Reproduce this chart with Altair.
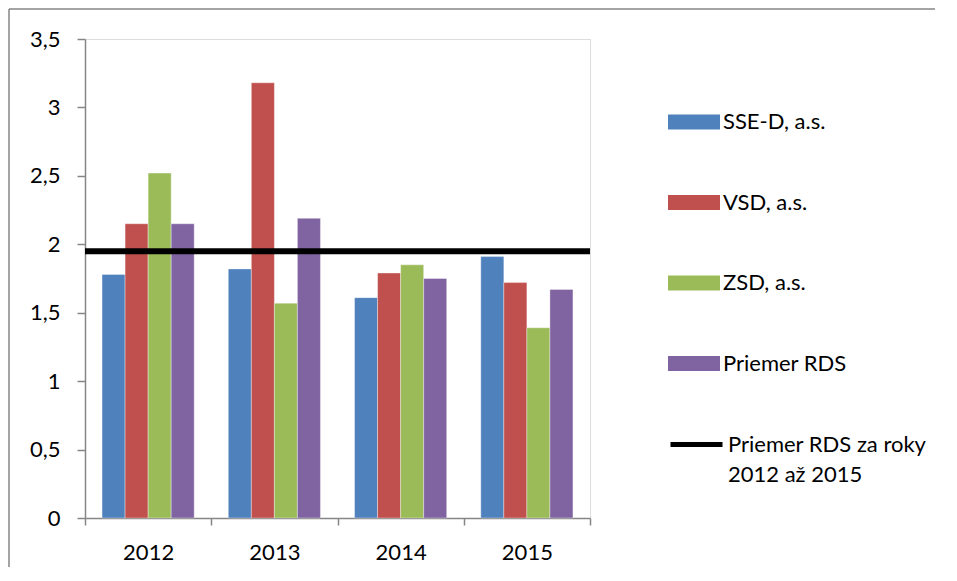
import altair as alt
import pandas as pd

years = ["2012", "2013", "2014", "2015"]
companies = ["SSE-D, a.s.", "VSD, a.s.", "ZSD, a.s.", "Priemer RDS"]
colors = ["#4F81BD", "#C0504D", "#9BBB59", "#8064A2"]
sse = [1.78, 1.82, 1.61, 1.91]
vsd = [2.15, 3.18, 1.79, 1.72]
zsd = [2.52, 1.57, 1.85, 1.39]
rds = [2.15, 2.19, 1.75, 1.67]
avg_name = "Priemer RDS za roky 2012 až 2015"
avg_value = [1.95]
y_ticks = [0, 0.5, 1, 1.5, 2, 2.5, 3, 3.5]

rows = []
for comp, vals in zip(companies, [sse, vsd, zsd, rds]):
    for yr, v in zip(years, vals):
        rows.append({"year": yr, "company": comp, "value": v})
df = pd.DataFrame(rows)
avg_df = pd.DataFrame({"name": [avg_name], "value": avg_value})

W, H = 505, 479
AXIS_GRAY = "#868686"
FONT = "Lato"

bars = alt.Chart(df).mark_bar(stroke="#ffffff", strokeWidth=0.6, strokeOpacity=0.6).encode(
    x=alt.X("year:N", sort=years, title=None,
            scale=alt.Scale(paddingInner=0, paddingOuter=0),
            axis=alt.Axis(labelAngle=0, tickBand="extent", tickSize=7, tickColor=AXIS_GRAY,
                          domainColor=AXIS_GRAY, tickWidth=1.5, domainWidth=1.5,
                          labelPadding=17, labelFontSize=22, labelColor="black",
                          labelFont=FONT)),
    xOffset=alt.XOffset("company:N", sort=companies,
                        scale=alt.Scale(paddingInner=0, paddingOuter=0.74)),
    y=alt.Y("value:Q", title=None,
            scale=alt.Scale(domain=[0, 3.5], nice=False),
            axis=alt.Axis(values=y_ticks, grid=False, tickSize=8, tickColor=AXIS_GRAY,
                          domainColor=AXIS_GRAY, tickWidth=1.5, domainWidth=1.5,
                          labelPadding=17, labelFontSize=22, labelColor="black",
                          labelFont=FONT,
                          labelExpr="replace(toString(datum.value), '.', ',')")),
    color=alt.Color("company:N", sort=companies,
                    scale=alt.Scale(domain=companies, range=colors),
                    legend=alt.Legend(title=None, orient="none", legendX=583, legendY=57,
                                      symbolType="M-1,-0.29H1V0.29H-1Z", symbolSize=2704,
                                      symbolStrokeWidth=0, rowPadding=43.5,
                                      labelFontSize=22, labelFont=FONT, labelColor="black",
                                      labelOffset=3, labelLimit=400, padding=0)),
)

avg_line = alt.Chart(avg_df).mark_rule(strokeWidth=6).encode(
    y=alt.Y("value:Q"),
    stroke=alt.Stroke("name:N",
                      scale=alt.Scale(domain=[avg_name], range=["black"]),
                      legend=alt.Legend(title=None, orient="none", legendX=583, legendY=377,
                                        symbolType="M-1,0L1,0", symbolSize=2704,
                                        symbolStrokeWidth=5, labelFontSize=22,
                                        labelFont=FONT, labelColor="black",
                                        labelOffset=3, labelLimit=400, padding=0,
                                        labelExpr="[slice(datum.label, 0, 19), slice(datum.label, 20)]")),
)

frame_top = alt.Chart(avg_df).mark_rule(color=AXIS_GRAY, strokeWidth=1.5).encode(
    x=alt.value(-76), x2=alt.value(850), y=alt.value(-30)
)
frame_left = alt.Chart(avg_df).mark_rule(color=AXIS_GRAY, strokeWidth=1.5).encode(
    x=alt.value(-76), y=alt.value(-30), y2=alt.value(528)
)

chart = alt.layer(frame_top, frame_left, bars, avg_line).properties(
    width=W, height=H,
    padding={"left": 0, "top": 0, "right": 0, "bottom": 0},
).configure_view(stroke=None).configure(
    font=FONT,
    style={"guide-label": {"lineHeight": 30}},
)

chart.save("out.html", embed_options={"renderer": "svg", "actions": False})
